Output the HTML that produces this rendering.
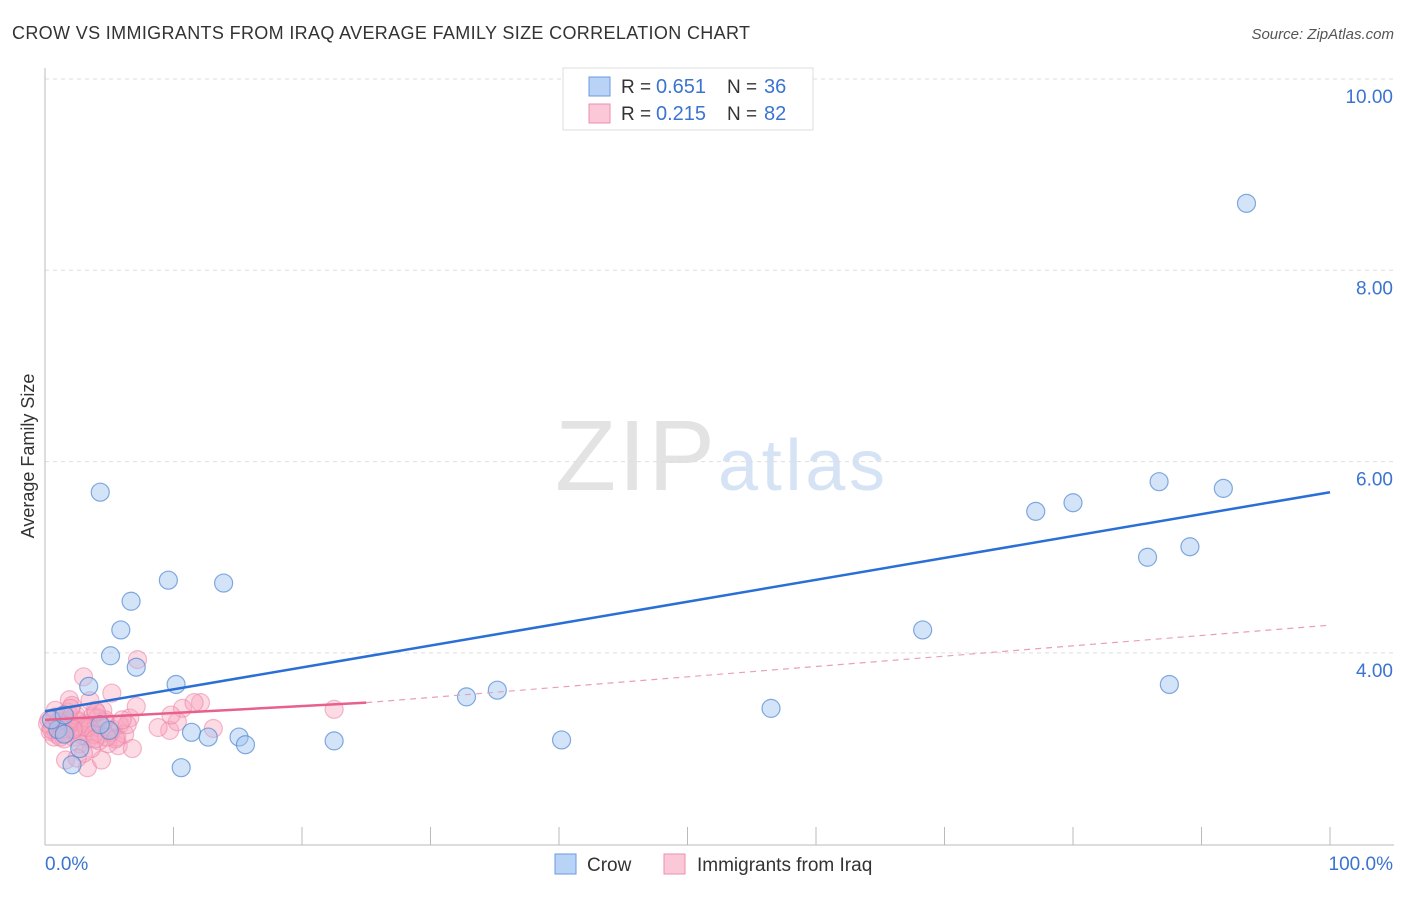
<!DOCTYPE html>
<html><head><meta charset="utf-8"><style>
body{margin:0;background:#fff;font-family:"Liberation Sans",sans-serif;}
svg text{font-family:"Liberation Sans",sans-serif;}
</style></head><body>
<svg id="c" width="1406" height="892"></svg>
<script>
const crowX=[93.5,4.3,77.1,80.0,86.7,91.7,85.8,89.1,9.6,13.9,6.7,5.9,68.3,5.1,7.1,10.2,3.4,87.5,32.8,35.2,56.5,5.0,11.4,12.7,15.1,15.6,22.5,40.2,10.6,2.1,1.0,0.5,1.5,2.7,1.5,4.3];
const crowY=[8.70,5.68,5.48,5.57,5.79,5.72,5.00,5.11,4.76,4.73,4.54,4.24,4.24,3.97,3.85,3.67,3.65,3.67,3.54,3.61,3.42,3.19,3.17,3.12,3.12,3.04,3.08,3.09,2.80,2.83,3.20,3.30,3.15,3.00,3.35,3.25];
const iraqX=[22.5,7.2,3.0,5.2,1.9,12.1,10.7,6.6,7.1,3.3,1.6,4.4,5.7,13.1,9.7,10.3,0.3,0.6,0.9,1.2,1.4,1.7,2.0,2.2,2.5,2.8,3.1,3.4,3.7,4.0,4.3,4.6,4.9,5.3,5.6,0.4,0.8,1.1,1.5,1.8,2.3,2.6,2.9,3.5,3.9,4.2,4.7,5.1,5.8,6.2,0.2,0.7,1.3,1.9,2.4,3.2,3.8,4.5,5.5,6.4,0.5,1.0,1.6,2.1,2.7,3.6,4.1,4.8,2.0,3.0,3.5,4.0,6.0,8.8,9.8,11.6,2.5,1.2,0.8,2.2,3.9,6.8];
const iraqY=[3.41,3.93,3.75,3.58,3.51,3.48,3.42,3.32,3.44,2.80,2.88,2.88,3.03,3.21,3.19,3.28,3.30,3.22,3.15,3.28,3.35,3.20,3.25,3.12,3.30,3.18,3.26,3.10,3.34,3.22,3.15,3.28,3.05,3.20,3.12,3.18,3.33,3.24,3.10,3.38,3.20,3.28,3.14,3.22,3.40,3.08,3.30,3.17,3.25,3.15,3.26,3.12,3.20,3.30,3.35,3.22,3.15,3.40,3.10,3.25,3.20,3.28,3.16,3.45,3.05,3.00,3.32,3.12,3.42,2.95,3.50,3.38,3.30,3.22,3.35,3.48,2.90,3.12,3.40,3.20,3.10,3.00];
const yTicks=[10,8,6,4];
const crowLine=[[0,3.39],[100,5.68]];
const iraqLine=[[0,3.30],[25,3.48],[100,4.29]];
const sx=v=>45+v*12.85, sy=v=>79+(10-v)*95.65;
const svg=document.getElementById('c'), NS='http://www.w3.org/2000/svg';
function mk(t,a,txt){const e=document.createElementNS(NS,t);for(const k in a)e.setAttribute(k,a[k]);if(txt!=null)e.textContent=txt;svg.appendChild(e);return e;}
let e;
e=mk('text',{x:12,y:39,'font-size':18,fill:'#333',textLength:738},'CROW VS IMMIGRANTS FROM IRAQ AVERAGE FAMILY SIZE CORRELATION CHART');


e=mk('text',{x:1394,y:39,'font-size':15,fill:'#555','font-style':'italic','text-anchor':'end'},'Source: ZipAtlas.com');


e=mk('text',{x:555,y:490,'font-size':100,fill:'#e3e3e3','font-family':'Liberation Serif',textLength:160},'ZIP');


e=mk('text',{x:718,y:490,'font-size':72,fill:'#d5e3f5',textLength:167},'atlas');


yTicks.forEach(t=>{
 e=mk('line',{x1:45,x2:1394,y1:sy(t),y2:sy(t),stroke:'#ddd','stroke-dasharray':'4,4'});
 
 
 e=mk('text',{x:1393,y:sy(t)+24,'font-size':19,fill:'#3b74d0','text-anchor':'end'},t.toFixed(2));
 
 
});
e=mk('line',{x1:45,x2:45,y1:68,y2:845,stroke:'#bbb'});


e=mk('line',{x1:45,x2:1394,y1:845,y2:845,stroke:'#bbb'});


for(let i=1;i<=10;i++){e=mk('line',{x1:sx(i*10),x2:sx(i*10),y1:827,y2:845,stroke:'#bbb'});
 
 }
e=mk('text',{x:45,y:870,'font-size':19,fill:'#3b74d0'},'0.0%');


e=mk('text',{x:1393,y:870,'font-size':19,fill:'#3b74d0','text-anchor':'end'},'100.0%');


e=mk('text',{x:34,y:456,'font-size':18,fill:'#333','text-anchor':'middle',transform:'rotate(-90 34 456)'},'Average Family Size');


iraqX.forEach((x,i)=>{e=mk('circle',{cx:sx(x),cy:sy(iraqY[i]),r:9,fill:'rgba(247,165,190,0.4)',stroke:'rgba(235,130,165,0.55)','stroke-width':1.2});
 
 });
crowX.forEach((x,i)=>{e=mk('circle',{cx:sx(x),cy:sy(crowY[i]),r:9,fill:'rgba(160,195,240,0.45)',stroke:'rgba(80,135,210,0.7)','stroke-width':1.2});
 
 });
e=mk('line',{x1:sx(crowLine[0][0]),y1:sy(crowLine[0][1]),x2:sx(crowLine[1][0]),y2:sy(crowLine[1][1]),stroke:'#2a6fd6','stroke-width':2.5});


e=mk('line',{x1:sx(iraqLine[0][0]),y1:sy(iraqLine[0][1]),x2:sx(iraqLine[1][0]),y2:sy(iraqLine[1][1]),stroke:'#e8608e','stroke-width':2.5});


e=mk('line',{x1:sx(iraqLine[1][0]),y1:sy(iraqLine[1][1]),x2:sx(iraqLine[2][0]),y2:sy(iraqLine[2][1]),stroke:'#e8a0b8','stroke-width':1.2,'stroke-dasharray':'6,5'});


e=mk('rect',{x:563,y:68,width:250,height:62,fill:'#fff',stroke:'#ddd'});


[[0,'0.651','36','#b8d3f5','#6a9ae0'],[1,'0.215','82','#fbc8d8','#ec8fb0']].forEach(([i,r,n,f,s])=>{
 const y=77+i*27;
 e=mk('rect',{x:589,y:y,width:21,height:19,fill:f,stroke:s});
 
 
 e=mk('text',{x:621,y:y+16,'font-size':19,fill:'#333'},'R = ');
 
 
 e=mk('text',{x:656,y:y+16,'font-size':20,fill:'#3b74d0'},r);
 
 
 e=mk('text',{x:727,y:y+16,'font-size':19,fill:'#333'},'N = ');
 
 
 e=mk('text',{x:764,y:y+16,'font-size':20,fill:'#3b74d0'},n);
 
 
});
[[555,'#b8d3f5','#6a9ae0','Crow',587],[664,'#fbc8d8','#ec8fb0','Immigrants from Iraq',697]].forEach(([x,f,s,t,tx])=>{
 e=mk('rect',{x:x,y:854,width:21,height:20,fill:f,stroke:s});
 
 
 e=mk('text',{x:tx,y:871,'font-size':19,fill:'#333'},t);
 
 
});
</script>
</body></html>
